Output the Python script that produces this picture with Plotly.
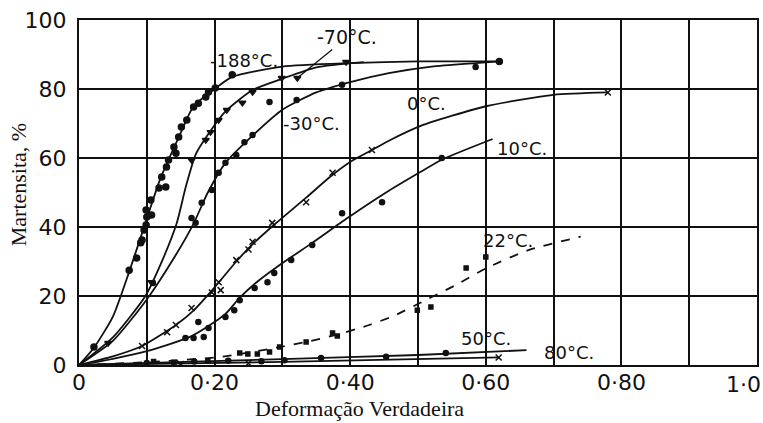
import plotly.graph_objects as go

# Fitted curves: true strain vs. martensite (%) at each test temperature
m188_curve_x = [0, 0.022, 0.05, 0.074, 0.096, 0.12, 0.147, 0.169, 0.2, 0.226, 0.3, 0.4, 0.5, 0.62]
m188_curve_y = [0, 5, 14, 27, 40, 54, 66, 75, 80, 83.5, 86.5, 87.5, 88, 88]

m70_curve_x = [0, 0.05, 0.098, 0.12, 0.144, 0.158, 0.172, 0.191, 0.216, 0.256, 0.3, 0.35, 0.42]
m70_curve_y = [0, 8, 20, 29, 41, 52, 61, 67, 73.5, 79.7, 83, 86.3, 87.8]

m30_curve_x = [0, 0.05, 0.1, 0.14, 0.169, 0.19, 0.216, 0.256, 0.3, 0.35, 0.4, 0.457, 0.52, 0.585, 0.62]
m30_curve_y = [0, 7, 19, 31, 41, 50, 58.6, 66.5, 74, 79, 82, 84.6, 86.5, 87.5, 88]

c0_curve_x = [0, 0.05, 0.093, 0.143, 0.17, 0.2, 0.232, 0.256, 0.29, 0.335, 0.37, 0.401, 0.432, 0.457, 0.504, 0.6, 0.7, 0.78]
c0_curve_y = [0, 2.5, 5.5, 11.6, 16, 22.5, 30, 35, 41, 48.5, 54.5, 59, 62.3, 65, 69.3, 75, 78.3, 79]

c10_curve_x = [0, 0.05, 0.1, 0.162, 0.191, 0.216, 0.237, 0.262, 0.296, 0.344, 0.396, 0.457, 0.504, 0.535, 0.61]
c10_curve_y = [0, 1.8, 4, 8, 11.3, 14.8, 19.5, 24, 29, 35.4, 42.6, 50.5, 56, 59.5, 65.5]

c22_curve_x = [0, 0.1, 0.207, 0.256, 0.296, 0.335, 0.379, 0.428, 0.465, 0.506, 0.556, 0.6, 0.663, 0.74]
c22_curve_y = [0, 0.8, 2.3, 3.8, 5.2, 6.7, 8.7, 11.6, 14.3, 18.3, 23.2, 28, 33.3, 37.2]

c50_curve_x = [0, 0.3, 0.5, 0.66]
c50_curve_y = [0, 1.7, 2.9, 4.3]

c80_curve_x = [0, 0.3, 0.62]
c80_curve_y = [0, 0.9, 2.2]

# Measured points
m188_pts_x = [0.022, 0.074, 0.085, 0.091, 0.093, 0.096, 0.099, 0.1, 0.107, 0.099, 0.106, 0.118, 0.128,
              0.122, 0.129, 0.132, 0.143, 0.14, 0.147, 0.151, 0.159, 0.169, 0.176, 0.187, 0.191, 0.201,
              0.226, 0.62]
m188_pts_y = [5.2, 27.5, 31, 35.4, 36.2, 39.1, 40.6, 42.9, 43.5, 44.9, 47.8, 51.3, 51.6,
              54.5, 57.4, 59.4, 61.4, 63.2, 66.1, 69, 71, 74.8, 75.9, 77.7, 79.1, 80.3,
              84.1, 88]

m70_pts_x = [0.043, 0.107, 0.166, 0.187, 0.194, 0.206, 0.218, 0.241, 0.256, 0.299, 0.322, 0.394]
m70_pts_y = [6.4, 24, 59.4, 65.2, 67.5, 71, 73.9, 76, 79.1, 83.2, 83.2, 87.8]

m30_pts_x = [0.109, 0.166, 0.172, 0.181, 0.196, 0.206, 0.216, 0.232, 0.244, 0.256, 0.281, 0.321, 0.388, 0.585]
m30_pts_y = [23.8, 42.6, 41.2, 47, 50.7, 55.7, 58.6, 60.9, 64.6, 66.7, 76.2, 76.8, 81.2, 86.4]

c0_pts_x = [0.093, 0.13, 0.143, 0.166, 0.196, 0.206, 0.209, 0.232, 0.25, 0.256, 0.285, 0.335, 0.374, 0.432, 0.78]
c0_pts_y = [5.5, 9.5, 11.6, 16.5, 21, 24, 21.7, 30.4, 33.5, 35.7, 41.2, 47.2, 55.7, 62.3, 79]

c10_pts_x = [0.157, 0.169, 0.184, 0.191, 0.176, 0.216, 0.229, 0.237, 0.259, 0.278, 0.288, 0.313, 0.344,
             0.388, 0.447, 0.535]
c10_pts_y = [7.8, 7.8, 8.1, 10.7, 12.5, 13.9, 15.9, 18.8, 22.3, 24, 26.7, 30.4, 34.8,
             44, 47.2, 60]

c22_pts_x = [0.11, 0.14, 0.19, 0.237, 0.249, 0.263, 0.281, 0.296, 0.335, 0.374, 0.381, 0.499, 0.519, 0.571, 0.6]
c22_pts_y = [1, 0.8, 1.2, 3.5, 3.2, 3.2, 3.8, 5.2, 6.7, 9.3, 8.4, 15.9, 16.8, 28.1, 31.3]

c50_pts_x = [0.1, 0.17, 0.22, 0.269, 0.303, 0.357, 0.453, 0.541]
c50_pts_y = [0.6, 1, 1.2, 1.1, 1.4, 2, 2.4, 3.5]

c80_pts_x = [0.15, 0.25, 0.619]
c80_pts_y = [0.3, 0.5, 2.2]

# Curve labels (text, anchor x, anchor y)
label_text = ["-188°C.", "-30°C.", "0°C.", "10°C.", "22°C.", "50°C.", "80°C."]
label_x = [0.244, 0.343, 0.513, 0.654, 0.632, 0.601, 0.722]
label_y = [88.4, 70.1, 75.9, 62.9, 36.2, 7.8, 3.5]

x_tick_vals = [0, 0.1, 0.2, 0.3, 0.4, 0.5, 0.6, 0.7, 0.8, 0.9, 1.0]
x_tick_text = ["0", "", "0·20", "", "0·40", "", "0·60", "", "0·80", "", ""]
x_end_label = "1·0"
y_tick_vals = [0, 20, 40, 60, 80, 100]
y_tick_text = ["0", "20", "40", "60", "80", "100"]

INK = "#111111"
HAND = "DejaVu Sans"
SERIF = "Liberation Serif"

fig = go.Figure()

curves = [
    (m188_curve_x, m188_curve_y, "solid"),
    (m70_curve_x, m70_curve_y, "solid"),
    (m30_curve_x, m30_curve_y, "solid"),
    (c0_curve_x, c0_curve_y, "solid"),
    (c10_curve_x, c10_curve_y, "solid"),
    (c22_curve_x, c22_curve_y, "dash"),
    (c50_curve_x, c50_curve_y, "solid"),
    (c80_curve_x, c80_curve_y, "solid"),
]
for cx, cy, dash in curves:
    fig.add_trace(go.Scatter(
        x=cx, y=cy, mode="lines",
        line=dict(color=INK, width=1.8, dash=dash, shape="spline", smoothing=0.6),
        hoverinfo="skip", showlegend=False,
    ))

points = [
    (m188_pts_x, m188_pts_y, "circle", 6),
    (m70_pts_x, m70_pts_y, "triangle-down", 6),
    (m30_pts_x, m30_pts_y, "circle", 5),
    (c0_pts_x, c0_pts_y, "x-thin", 6),
    (c10_pts_x, c10_pts_y, "circle", 5),
    (c22_pts_x, c22_pts_y, "square", 4),
    (c50_pts_x, c50_pts_y, "circle", 5),
    (c80_pts_x, c80_pts_y, "x-thin", 6),
]
for px, py, sym, size in points:
    fig.add_trace(go.Scatter(
        x=px, y=py, mode="markers",
        marker=dict(symbol=sym, size=size, color=INK,
                    line=dict(color=INK, width=1.5)),
        showlegend=False,
    ))

for t, lx, ly in zip(label_text, label_x, label_y):
    fig.add_annotation(x=lx, y=ly, text=t, showarrow=False,
                       font=dict(family=HAND, size=18, color=INK))

# -70 °C label with a leader line to its data point
fig.add_annotation(x=m70_pts_x[10], y=m70_pts_y[10], text="-70°C.",
                   ax=0.396, ay=95.1, axref="x", ayref="y",
                   showarrow=True, arrowhead=0, arrowwidth=1.3, arrowcolor=INK,
                   font=dict(family=HAND, size=19, color=INK))

# last x tick label sits against the right edge of the page
fig.add_annotation(x=1.0, y=0, xref="x", yref="y", text=x_end_label, showarrow=False,
                   xanchor="right", yanchor="top", xshift=6, yshift=-5,
                   font=dict(family=HAND, size=22, color=INK))

# axis titles
fig.add_annotation(x=0.413, y=-0.125, xref="paper", yref="paper",
                   xanchor="center", yanchor="middle",
                   text="Deformação Verdadeira", showarrow=False,
                   font=dict(family=SERIF, size=22, color=INK))
fig.add_annotation(x=-0.088, y=0.522, xref="paper", yref="paper",
                   xanchor="center", yanchor="middle",
                   text="Martensita, %", showarrow=False, textangle=-90,
                   font=dict(family=SERIF, size=22, color=INK))

axis_common = dict(
    showgrid=True, gridcolor=INK, gridwidth=1.6,
    showline=True, linecolor=INK, linewidth=2.2, mirror=True,
    zeroline=False, ticks="",
    tickfont=dict(family=HAND, size=22, color=INK),
)

fig.update_xaxes(
    range=[0, 1.0], tickmode="array", tickvals=x_tick_vals, ticktext=x_tick_text,
    ticklabelstandoff=-4,
    **axis_common,
)
fig.update_yaxes(
    range=[0, 100], tickmode="array", tickvals=y_tick_vals, ticktext=y_tick_text,
    ticklabelstandoff=6,
    **axis_common,
)

fig.update_layout(
    width=763, height=423,
    margin=dict(l=79, r=4, t=20, b=58),
    paper_bgcolor="white", plot_bgcolor="white",
)

fig.write_html("out.html")
